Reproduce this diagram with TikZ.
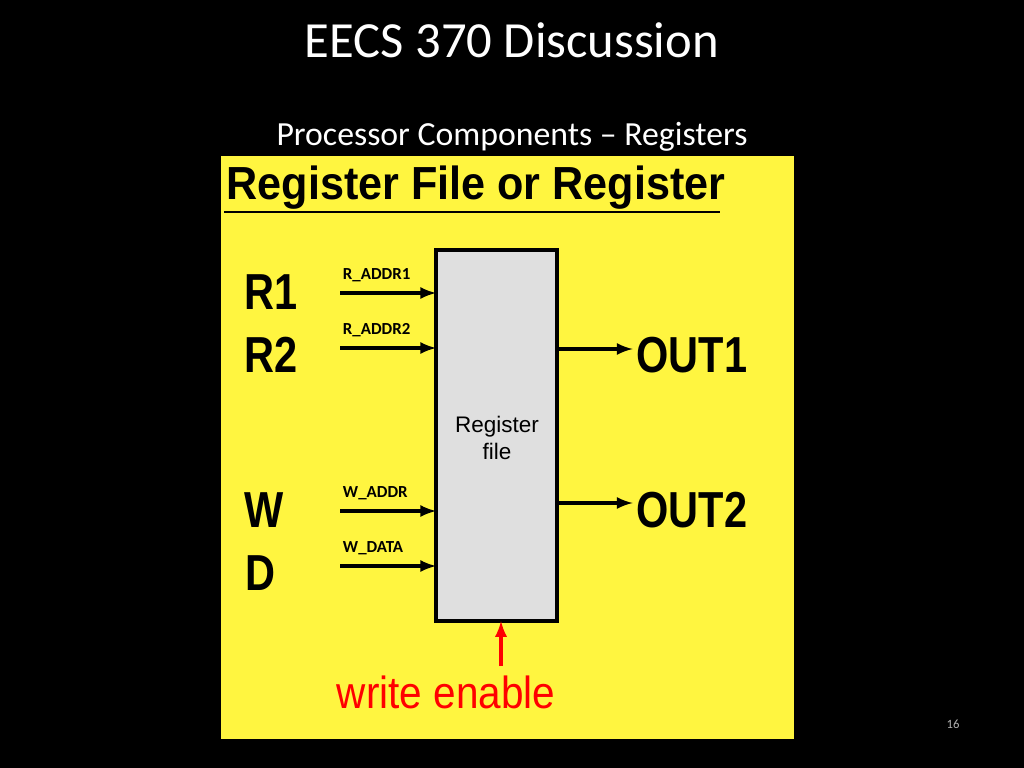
\documentclass[tikz,border=0pt]{standalone}
\usepackage{fontspec}
\setmainfont{Carlito}
\newfontfamily\arial{Liberation Sans}
\begin{document}
\begin{tikzpicture}[x=0.025cm,y=-0.025cm,
        big/.style={font=\arial\bfseries\fontsize{36}{36}\selectfont, xscale=0.82},
        sig/.style={font=\bfseries\fontsize{12}{12}\selectfont},
        arrow/.style={->, >=latex, line width=2.8pt}
    ]
        % Background
        \fill[black] (0,0) rectangle (1024,768);
        \fill[yellow!75!white] (221,156) rectangle (794,739);

        % Titles
        \node[white, font=\fontsize{36}{36}\selectfont] (title) at (512,40) {EECS 370 Discussion};
        \node[white, font=\fontsize{24}{24}\selectfont] (sub) at (512,137) {Processor Components -- Registers};
        \node[anchor=west, font=\arial\bfseries\fontsize{33}{33}\selectfont, xscale=0.93] (head) at (222,188) {Register File or Register};
        \draw[line width=2pt] (224,212) -- (720,212);

        % Register file
        \draw[line width=3pt, fill=gray!25] (436,250) rectangle (557,621);
        \node[font=\arial\fontsize{16}{19}\selectfont, align=center] (rf) at (497,438) {Register\\file};

        % Inputs
        \node[big] (r1) at (271,292) {R1};
        \node[big] (r2) at (271,355) {R2};
        \node[big] (w) at (264,510) {W};
        \node[big] (d) at (260,573) {D};
        \foreach \y/\t in {293/R\_ADDR1, 348/R\_ADDR2, 511/W\_ADDR, 566/W\_DATA} {
            \coordinate (s\y) at (340,\y);
            \coordinate (e\y) at (436,\y);
            \draw[arrow] (s\y) -- (e\y);
            \node[sig, anchor=south west] at (338,\y-6) {\t};
        }

        % Outputs
        \node[big] (o1) at (692,355) {OUT1};
        \node[big] (o2) at (692,510) {OUT2};
        \coordinate (a1) at (557,349);
        \coordinate (a2) at (557,503);
        \draw[arrow] (a1) -- (o1.west |- a1);
        \draw[arrow] (a2) -- (o2.west |- a2);

        % Write enable
        \node[red, font=\arial\fontsize{32}{32}\selectfont, xscale=0.9] (we) at (446,692) {write enable};
        \coordinate (wt) at (501,621);
        \draw[arrow, red] (501,666) -- (wt);

        \node[gray!60, font=\fontsize{9}{9}\selectfont] (pg) at (953,724) {16};
    \end{tikzpicture}
\end{document}
